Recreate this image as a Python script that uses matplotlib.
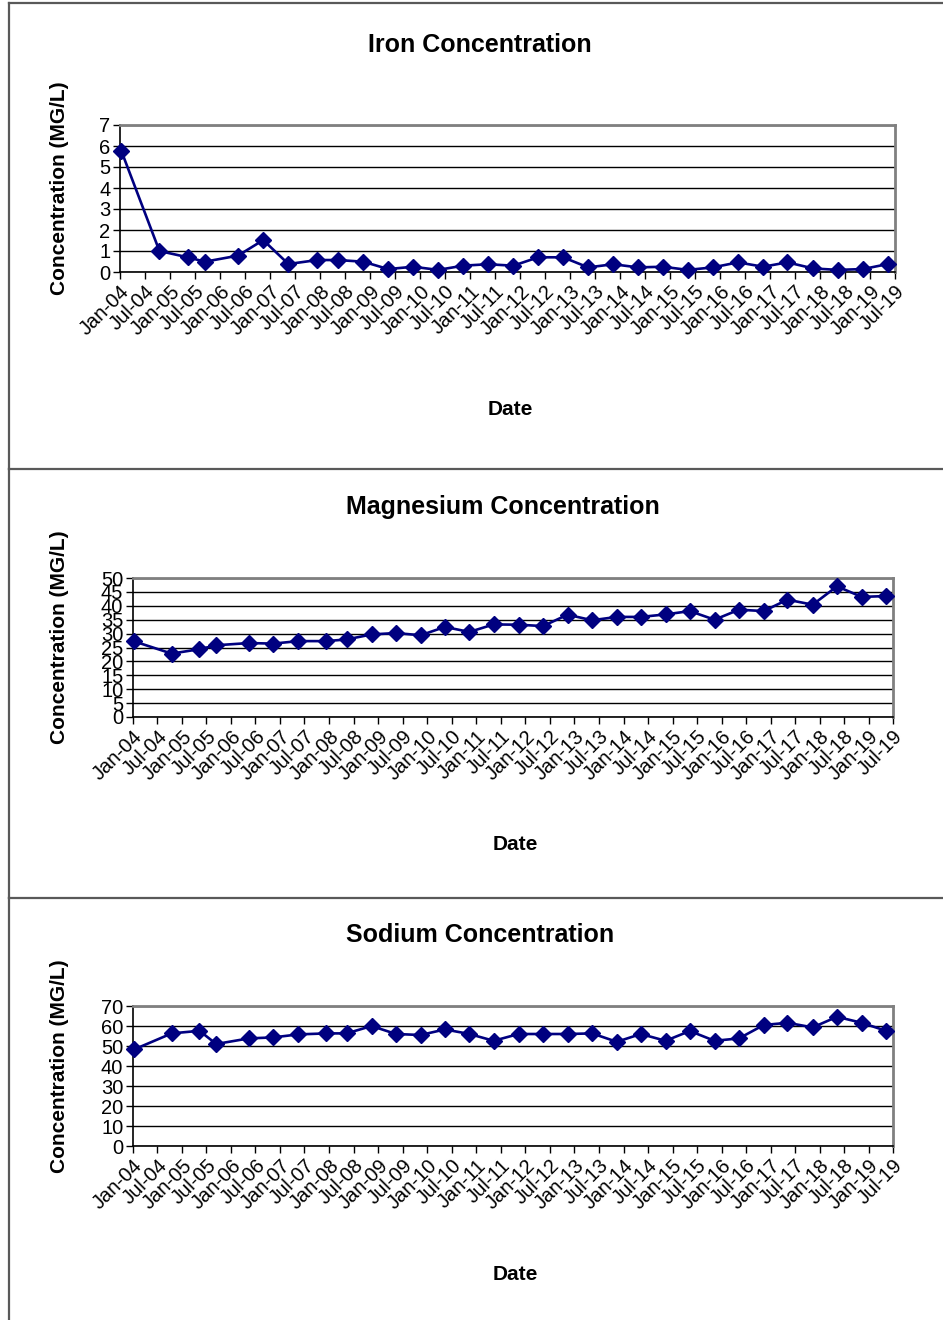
"""Water quality trends: iron, magnesium and sodium concentrations."""

from datetime import datetime

import matplotlib
matplotlib.use("Agg")
import matplotlib.pyplot as plt
import matplotlib.dates as mdates
from matplotlib.lines import Line2D

W, H = 943, 1320
LINE_COLOR = "#000080"
FONT = "Liberation Sans"

# ── Data ────────────────────────────────────────────────────────────────

sample_dates = [
    "2004-01-10", "2004-10-15", "2005-05-10", "2005-09-12", "2006-05-12",
    "2006-11-12", "2007-05-15", "2007-12-12", "2008-05-10", "2008-11-12",
    "2009-05-12", "2009-11-12", "2010-05-12", "2010-11-10", "2011-05-10",
    "2011-11-12", "2012-05-12", "2012-11-10", "2013-05-12", "2013-11-12",
    "2014-05-10", "2014-11-10", "2015-05-10", "2015-11-10", "2016-05-10",
    "2016-11-10", "2017-05-06", "2017-11-10", "2018-05-10", "2018-11-10",
    "2019-05-10",
]

iron = [
    5.78, 1.00, 0.70, 0.49, 0.78, 1.52, 0.38, 0.57, 0.57, 0.49,
    0.14, 0.25, 0.10, 0.30, 0.37, 0.30, 0.70, 0.70, 0.22, 0.37,
    0.22, 0.25, 0.10, 0.22, 0.46, 0.25, 0.46, 0.17, 0.10, 0.14,
    0.38,
]

magnesium = [
    27.2, 22.8, 24.4, 25.8, 26.6, 26.4, 27.3, 27.3, 27.9, 29.7,
    30.2, 29.4, 32.4, 30.6, 33.3, 33.2, 32.7, 36.8, 34.8, 36.0,
    36.0, 36.9, 38.1, 35.0, 38.6, 38.1, 42.2, 40.4, 47.0, 43.2,
    43.5,
]

sodium = [
    48.3, 56.3, 57.6, 51.0, 53.8, 54.3, 55.8, 56.3, 56.3, 60.0,
    56.0, 55.5, 58.3, 56.0, 52.6, 56.0, 56.0, 56.0, 56.3, 52.1,
    56.0, 52.6, 57.5, 52.6, 53.8, 60.5, 61.6, 59.3, 64.6, 61.6,
    57.6,
]

dates = [datetime.strptime(d, "%Y-%m-%d") for d in sample_dates]

# (title, values, y max, y step, axes box in px: left, top, right, bottom,
#  title centre, date-label centre, panel top, panel bottom)
panels = [
    ("Iron Concentration", iron, 7, 1, (120, 125, 895, 272), (480, 45), (510, 410), 3, 469),
    ("Magnesium Concentration", magnesium, 50, 5, (133, 578, 893, 717), (503, 507), (515, 845), 469, 898),
    ("Sodium Concentration", sodium, 70, 10, (133, 1006, 893, 1146), (480, 935), (515, 1274), 898, 1322),
]


def fx(x):
    return x / W


def fy(y):
    return 1 - y / H


fig = plt.figure(figsize=(W / 100, H / 100), dpi=100)
fig.patch.set_facecolor("white")

for title, values, ymax, ystep, box, tpos, dpos, ptop, pbot in panels:
    # Panel frame
    frame_kw = dict(color="#595959", linewidth=1.6, transform=fig.transFigure)
    fig.add_artist(Line2D([fx(9), fx(9)], [fy(ptop), fy(pbot)], **frame_kw))
    fig.add_artist(Line2D([fx(9), fx(W + 5)], [fy(ptop), fy(ptop)], **frame_kw))

    left, top, right, bottom = box
    ax = fig.add_axes([fx(left), fy(bottom), fx(right - left), (bottom - top) / H])

    ax.plot(dates, values, color=LINE_COLOR, linewidth=1.9, marker="D",
            markersize=8.5, markerfacecolor=LINE_COLOR,
            markeredgecolor=LINE_COLOR, zorder=3, clip_on=False)

    ax.set_xlim(datetime(2004, 1, 1), datetime(2019, 7, 1))
    ax.set_ylim(0, ymax)
    ax.set_yticks(range(0, ymax + 1, ystep))
    ax.yaxis.grid(True, color="black", linewidth=1.0)
    ax.set_axisbelow(True)

    ax.xaxis.set_major_locator(mdates.MonthLocator(bymonth=(1, 7)))
    ax.xaxis.set_major_formatter(mdates.DateFormatter("%b-%y"))

    ax.tick_params(axis="both", direction="out", length=5, width=1,
                   color="black", labelsize=14.5, labelcolor="black")
    ax.tick_params(axis="y", pad=2)
    ax.tick_params(axis="x", pad=2)
    for lbl in ax.get_xticklabels():
        lbl.set_rotation(45)
        lbl.set_ha("right")
        lbl.set_rotation_mode("anchor")
        lbl.set_fontfamily(FONT)
    for lbl in ax.get_yticklabels():
        lbl.set_fontfamily(FONT)

    for side in ("top", "right"):
        ax.spines[side].set_color("#808080")
        ax.spines[side].set_linewidth(2)
    for side in ("left", "bottom"):
        ax.spines[side].set_color("black")
        ax.spines[side].set_linewidth(1.2)

    fig.text(fx(tpos[0]), fy(tpos[1]), title, ha="center", va="center",
             fontsize=18, fontweight="bold", family=FONT)
    fig.text(fx(dpos[0]), fy(dpos[1]), "Date", ha="center", va="center",
             fontsize=15, fontweight="bold", family=FONT)
    fig.text(fx(60), fy((top + bottom) / 2 - 10), "Concentration (MG/L)",
             ha="center", va="center", rotation=90,
             fontsize=15, fontweight="bold", family=FONT)

fig.savefig("out.png", dpi=100, facecolor="white")
